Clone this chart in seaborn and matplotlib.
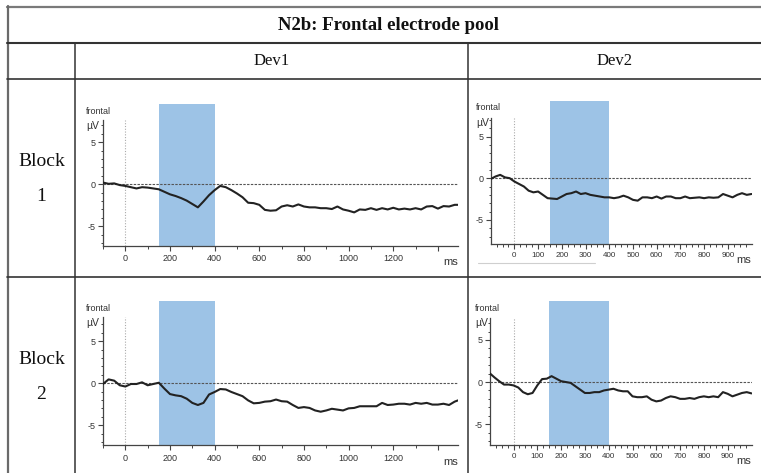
import numpy as np
import pandas as pd
import matplotlib
matplotlib.use("Agg")
import matplotlib.pyplot as plt
from matplotlib.lines import Line2D
from matplotlib.ticker import FixedLocator, NullFormatter
import seaborn as sns

# --- data (ms, microvolts) ---
title = "N2b: Frontal electrode pool"
conditions = ["Dev1", "Dev2"]
blocks = ["Block\n\n1", "Block\n\n2"]
win_start, win_end = 150, 400

times_dev1 = [-100, -75, -50, -25, 0, 25, 50, 75, 100, 125, 150, 175, 200, 225, 250,
              275, 300, 325, 350, 375, 400, 425, 450, 475, 500, 525, 550, 575, 600,
              625, 650, 675, 700, 725, 750, 775, 800, 825, 850, 875, 900, 925, 950,
              975, 1000, 1025, 1050, 1075, 1100, 1125, 1150, 1175, 1200, 1225, 1250,
              1275, 1300, 1325, 1350, 1375, 1400, 1425, 1450, 1475, 1490]
dev1_block1 = [0.2, 0.05, 0.1, -0.1, -0.2, -0.35, -0.5, -0.35, -0.4, -0.5, -0.6, -0.9,
               -1.2, -1.4, -1.65, -1.95, -2.35, -2.75, -2.05, -1.3, -0.7, -0.2, -0.35,
               -0.7, -1.1, -1.55, -2.2, -2.25, -2.45, -3.05, -3.15, -3.1, -2.65, -2.5,
               -2.65, -2.4, -2.65, -2.75, -2.75, -2.85, -2.85, -2.95, -2.65, -3.0, -3.15,
               -3.35, -3.0, -3.05, -2.85, -3.05, -2.85, -3.0, -2.8, -3.0, -2.9, -3.0,
               -2.85, -3.0, -2.65, -2.6, -2.9, -2.6, -2.65, -2.45, -2.45]
dev1_block2 = [-0.1, 0.45, 0.3, -0.25, -0.4, -0.1, -0.1, 0.1, -0.25, -0.1, 0.05, -0.65,
               -1.3, -1.45, -1.55, -1.85, -2.35, -2.6, -2.35, -1.35, -1.05, -0.7, -0.75,
               -1.05, -1.3, -1.55, -2.05, -2.4, -2.35, -2.2, -2.15, -1.95, -2.15, -2.2,
               -2.6, -2.95, -2.85, -2.95, -3.25, -3.4, -3.25, -3.05, -3.15, -3.25, -3.0,
               -2.95, -2.75, -2.75, -2.75, -2.75, -2.35, -2.6, -2.55, -2.45, -2.45, -2.55,
               -2.35, -2.45, -2.35, -2.55, -2.55, -2.45, -2.6, -2.2, -2.05]

times_dev2 = [-100, -80, -60, -40, -20, 0, 20, 40, 60, 80, 100, 120, 140, 160, 180, 200,
              220, 240, 260, 280, 300, 320, 340, 360, 380, 400, 420, 440, 460, 480, 500,
              520, 540, 560, 580, 600, 620, 640, 660, 680, 700, 720, 740, 760, 780, 800,
              820, 840, 860, 880, 900, 920, 940, 960, 980, 1000]
dev2_block1 = [-0.1, 0.2, 0.4, 0.1, 0.0, -0.4, -0.7, -1.0, -1.5, -1.7, -1.6, -2.0, -2.4,
               -2.45, -2.5, -2.2, -1.9, -1.8, -1.6, -1.9, -1.8, -2.0, -2.1, -2.2, -2.3,
               -2.3, -2.4, -2.3, -2.1, -2.3, -2.6, -2.7, -2.3, -2.3, -2.4, -2.2, -2.45,
               -2.2, -2.2, -2.4, -2.4, -2.2, -2.4, -2.35, -2.3, -2.4, -2.3, -2.35, -2.3,
               -1.9, -2.1, -2.3, -2.0, -1.8, -2.0, -1.9]
dev2_block2 = [1.05, 0.55, 0.1, -0.3, -0.3, -0.4, -0.65, -1.2, -1.45, -1.3, -0.4, 0.35,
               0.4, 0.7, 0.4, 0.1, 0.0, -0.1, -0.5, -0.9, -1.3, -1.3, -1.2, -1.2, -1.0,
               -0.9, -0.8, -1.0, -1.1, -1.1, -1.7, -1.8, -1.8, -1.7, -2.1, -2.3, -2.2,
               -1.9, -1.7, -1.8, -2.0, -2.0, -1.9, -2.0, -1.8, -1.7, -1.8, -1.7, -1.8,
               -1.2, -1.4, -1.7, -1.5, -1.3, -1.2, -1.35]

panels = [
    (times_dev1, dev1_block1, "dev1", (103, 458, 246, 104), (-7.35, 9.55), 7.65),
    (times_dev2, dev2_block1, "dev2", (490.7, 751.5, 244, 100.7), (-7.9, 9.3), 7.2),
    (times_dev1, dev1_block2, "dev1", (103, 458, 445.3, 301.3), (-7.4, 9.75), 7.85),
    (times_dev2, dev2_block2, "dev2", (489.7, 751.5, 444.7, 301.3), (-7.45, 9.6), 7.6),
]

W, H = 761, 473
sns.set_theme(style="ticks")
plt.rcParams["font.family"] = ["Liberation Sans Narrow", "Liberation Sans", "DejaVu Sans"]

fig = plt.figure(figsize=(W / 100, H / 100), dpi=100)
fig.patch.set_facecolor("white")

def fx(x):
    return x / W

def fy(y):
    return 1 - y / H

# table grid
def hline(y, x0, x1, color="#333333", lw=1.1):
    fig.add_artist(Line2D([fx(x0), fx(x1)], [fy(y), fy(y)], color=color, lw=lw))

def vline(x, y0, y1, color="#333333", lw=1.1):
    fig.add_artist(Line2D([fx(x), fx(x)], [fy(y0), fy(y1)], color=color, lw=lw))

hline(6.8, 7, W, color="#7a7a7a", lw=1.6)
vline(7.8, 6, H, color="#6a6a6a", lw=1.6)
hline(42.7, 7, W, lw=1.5)
hline(78.7, 7, W, lw=1.2)
hline(276.7, 7, W, lw=1.2)
vline(75, 42.7, H)
vline(468.3, 42.7, H)

serif = ["Liberation Serif", "DejaVu Serif"]
fig.text(fx(388), fy(25), title, ha="center", va="center", fontsize=13.5,
         fontweight="bold", family=serif, color="#111111")
fig.text(fx(271.5), fy(61), conditions[0], ha="center", va="center", fontsize=12,
         family=serif, color="#111111")
fig.text(fx(614.5), fy(61), conditions[1], ha="center", va="center", fontsize=12,
         family=serif, color="#111111")
fig.text(fx(41.5), fy(179), blocks[0], ha="center", va="center", fontsize=14,
         family=serif, color="#111111", linespacing=1.05)
fig.text(fx(41.5), fy(377), blocks[1], ha="center", va="center", fontsize=14,
         family=serif, color="#111111", linespacing=1.05)

for times, values, kind, (left, right, bottom, top), ylim, spine_top in panels:
    ax = fig.add_axes([fx(left), fy(bottom), fx(right - left), (bottom - top) / H])
    ax.set_facecolor("none")
    xlim = (-100, 1490) if kind == "dev1" else (-100, 1000)

    ax.axvspan(win_start, win_end, color="#9DC3E6", lw=0, zorder=0)
    ax.hlines(0, xlim[0], xlim[1], color="#555555", lw=0.8, linestyles=(0, (2.2, 1.2)), zorder=1)
    ax.vlines(0, ylim[0], spine_top, color="#aaaaaa", lw=0.8, linestyles=(0, (1, 1.5)), zorder=1)

    df = pd.DataFrame({"ms": times, "uV": values})
    sns.lineplot(data=df, x="ms", y="uV", ax=ax, color="#222222", lw=1.5, zorder=3)

    ax.set_xlim(*xlim)
    ax.set_ylim(*ylim)
    ax.set_xlabel("")
    ax.set_ylabel("")

    for s in ["top", "right"]:
        ax.spines[s].set_visible(False)
    for s in ["left", "bottom"]:
        ax.spines[s].set_color("#444444")
        ax.spines[s].set_linewidth(0.9)
    ax.spines["left"].set_bounds(ylim[0], spine_top)

    ax.yaxis.set_major_locator(FixedLocator([-5, 0, 5]))
    ax.set_yticklabels(["-5", "0", "5"])
    ax.yaxis.set_minor_locator(FixedLocator([-7, -6, -4, -3, -2, -1, 1, 2, 3, 4, 6, 7]))

    if kind == "dev1":
        ax.xaxis.set_major_locator(FixedLocator([0, 200, 400, 600, 800, 1000, 1200, 1400]))
        ax.set_xticklabels(["0", "200", "400", "600", "800", "1000", "1200", ""])
        ax.xaxis.set_minor_locator(FixedLocator([-100, 100, 300, 500, 700, 900, 1100, 1300]))
        xfs = 6.5
    else:
        ax.xaxis.set_major_locator(FixedLocator([0, 100, 200, 300, 400, 500, 600, 700, 800, 900]))
        ax.set_xticklabels(["0", "100", "200", "300", "400", "500", "600", "700", "800", "900"])
        ax.xaxis.set_minor_locator(FixedLocator([t for t in range(-75, 1000, 25) if t % 100 != 0]))
        xfs = 5.8
    ax.xaxis.set_minor_formatter(NullFormatter())

    ax.tick_params(axis="both", which="both", bottom=True, left=True, top=False, right=False)
    ax.tick_params(axis="both", which="major", direction="out", length=3.5, width=0.8,
                   color="#444444", labelcolor="#333333", pad=1.5)
    ax.tick_params(axis="both", which="minor", direction="out", length=1.8, width=0.7,
                   color="#444444")
    ax.tick_params(axis="x", which="major", labelsize=xfs, pad=2.5)
    ax.tick_params(axis="y", which="major", labelsize=6.5)

    ax.text(1.0, -0.115, "ms", transform=ax.transAxes, ha="right", va="center",
            fontsize=8, color="#333333")
    off = 17 if kind == "dev1" else 14.5
    fig.text(fx(left - off), fy(top + 7), "frontal", ha="left", va="center",
             fontsize=6.5, color="#333333")
    fig.text(fx(left - off), fy(top + 22), "µV", ha="left", va="center",
             fontsize=7.5, color="#333333")

# faint scan artifact under the Dev2 block 1 panel
hline(262.7, 478, 595, color="#cfcfcf", lw=0.8)

fig.savefig("out.png", dpi=100, facecolor="white")
